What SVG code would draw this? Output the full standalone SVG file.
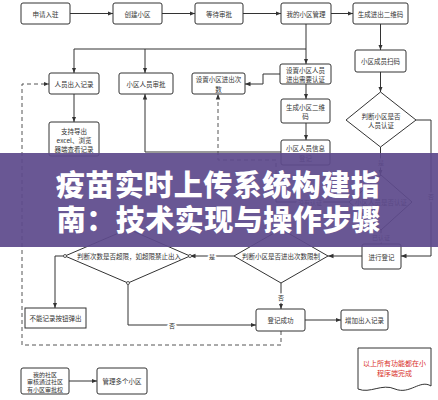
<svg xmlns="http://www.w3.org/2000/svg" width="438" height="400" viewBox="0 0 438 400">
<style>
.b{fill:#fff;stroke:#333;stroke-width:1}
.t{font-family:"Noto Sans CJK SC","Noto Sans",sans-serif;font-size:6.5px;fill:#333;text-anchor:middle;dominant-baseline:central}
.s{font-size:6px}
.l{font-family:"Noto Sans CJK SC","Noto Sans",sans-serif;font-size:6px;fill:#333;text-anchor:middle;dominant-baseline:central;stroke:#fff;stroke-width:3;paint-order:stroke}
.c{fill:none;stroke:#333;stroke-width:1}
.d{fill:none;stroke:#555;stroke-width:1;stroke-dasharray:4 3}
.v{fill:#fff;stroke:#333;stroke-width:0.8}
.r{font-family:"Noto Sans CJK SC","Noto Sans",sans-serif;font-size:7px;fill:#d9312b;text-anchor:middle;dominant-baseline:central}
.h{font-family:"Noto Sans CJK SC","Noto Sans",sans-serif;font-size:29px;font-weight:900;fill:#fff;text-anchor:middle;dominant-baseline:central;letter-spacing:0.5px}
</style>
<defs>
<marker id="a" viewBox="0 0 10 10" refX="10" refY="5" markerWidth="5.5" markerHeight="5.5" orient="auto"><path d="M0,1 L10,5 L0,9 z" fill="#333"/></marker>
</defs>
<rect width="438" height="400" fill="#fff"/>
<g id="connectors">
<path class="c" d="M70,13.5 H113" marker-end="url(#a)"/>
<path class="c" d="M162,13.5 H195" marker-end="url(#a)"/>
<path class="c" d="M243,13.5 H281" marker-end="url(#a)"/>
<path class="c" d="M331,13.5 H353" marker-end="url(#a)"/>
<path class="c" d="M380.5,24 V50" marker-end="url(#a)"/>
<path class="c" d="M306,24 V64" marker-end="url(#a)"/>
<path class="c" d="M306,49 H74 V73" marker-end="url(#a)"/>
<path class="c" d="M145,49 V73" marker-end="url(#a)"/>
<path class="c" d="M280,74 H263 V84 H245" marker-end="url(#a)"/>
<path class="c" d="M306,84 V99" marker-end="url(#a)"/>
<path class="c" d="M306,123 V140" marker-end="url(#a)"/>
<path class="c" d="M74,94 V122" marker-end="url(#a)"/>
<path class="c" d="M281,152 H145 V94" marker-end="url(#a)"/>
<path class="c" d="M380.5,72 V92" marker-end="url(#a)"/>
<path class="c" d="M380.5,147 V175" marker-end="url(#a)"/>
<path class="c" d="M416,120 H431 V256 H401" marker-end="url(#a)"/>
<path class="c" d="M349,202 H276"/>
<path class="d" d="M276,202 V160 H218 V94" marker-end="url(#a)"/>
<path class="c" d="M381,230 V244" marker-end="url(#a)"/>
<path class="c" d="M362,256 H328" marker-end="url(#a)"/>
<path class="c" d="M234,256 H190" marker-end="url(#a)"/>
<path class="c" d="M281,283 V309" marker-end="url(#a)"/>
<path class="c" d="M65,256 H55 V308" marker-end="url(#a)"/>
<path class="c" d="M128,283 V325 H256" marker-end="url(#a)"/>
<path class="c" d="M305,320 H341" marker-end="url(#a)"/>
<path class="d" d="M281,331 V345 H22 V84 H49" marker-end="url(#a)"/>
<path class="c" d="M69,381 H97" marker-end="url(#a)"/>
<text class="l" x="381" y="162">是</text>
<text class="l" x="431" y="196">否</text>
<text class="l" x="310" y="202">没有认证</text>
<text class="l" x="381" y="237">已认证</text>
<text class="l" x="212" y="256">是</text>
<text class="l" x="281" y="297">否</text>
<text class="l" x="172" y="325">否</text>
</g>
<g id="n1"><rect class="b" x="21" y="3" width="49" height="21" rx="2"/><text class="t" x="45.5" y="13.5">申请入驻</text></g>
<g id="n2"><rect class="b" x="113" y="3" width="49" height="21" rx="2"/><text class="t" x="137.5" y="13.5">创建小区</text></g>
<g id="n3"><rect class="b" x="195" y="3" width="48" height="21" rx="2"/><text class="t" x="219" y="13.5">等待审批</text></g>
<g id="n4"><rect class="b" x="281" y="3" width="50" height="21" rx="2"/><text class="t" x="306" y="13.5">我的小区管理</text></g>
<g id="n5"><rect class="b" x="353" y="3" width="55" height="21" rx="2"/><text class="t" x="380.5" y="13.5">生成进出二维码</text></g>
<g id="n6"><rect class="b" x="355" y="50" width="51" height="22" rx="2"/><text class="t" x="380.5" y="61">小区成员扫码</text></g>
<g id="n7"><rect class="b" x="49" y="73" width="50" height="21" rx="2"/><text class="t" x="74" y="83.5">人员出入记录</text></g>
<g id="n8"><rect class="b" x="119" y="73" width="54" height="21" rx="2"/><text class="t" x="146" y="83.5">小区人员审批</text></g>
<g id="n9"><rect class="b" x="192" y="73" width="53" height="21" rx="2"/><text class="t" x="218.5" y="79">设置小区进出次</text><text class="t" x="218.5" y="88.5">数</text></g>
<g id="n10"><rect class="b" x="280" y="64" width="51" height="20" rx="2"/><text class="t" x="305.5" y="70">设置小区人员</text><text class="t" x="305.5" y="79">进出需要认证</text></g>
<g id="n11"><rect class="b" x="281" y="99" width="49" height="24" rx="2"/><text class="t" x="305.5" y="107">生成小区二维</text><text class="t" x="305.5" y="116">码</text></g>
<g id="n12"><rect class="b" x="281" y="140" width="49" height="25" rx="2"/><text class="t" x="305.5" y="148">小区人员信息</text><text class="t" x="305.5" y="158">登记</text></g>
<g id="n13"><rect class="b" x="49" y="122" width="50" height="34" rx="2"/><text class="t" x="74" y="131">支持导出</text><text class="t" x="74" y="140">excel、浏览</text><text class="t" x="74" y="149">器端查看记录</text></g>
<g id="n14"><path class="b" d="M380.5,92 L416,120 L380.5,147 L346,120 Z"/><text class="t" x="381" y="116">判断小区是否</text><text class="t" x="381" y="125">人员认证</text></g>
<g id="n15"><path class="b" d="M381,175 L412,202 L381,230 L349,202 Z"/><text class="t" x="381" y="202">小区人员是否认证</text></g>
<g id="n16"><rect class="b" x="362" y="244" width="39" height="25" rx="2"/><text class="t" x="381.5" y="256.5">进行登记</text></g>
<g id="n17"><path class="b" d="M281,229 L328,256 L281,283 L234,256 Z"/><text class="t" x="281" y="256">判断小区是否进出次数限制</text></g>
<g id="n18"><path class="b" d="M128,229 L190,256 L128,283 L65,256 Z"/><text class="t" x="129" y="256">判断次数是否超限，如超限禁止出入</text><circle class="v" cx="65" cy="256" r="1.5"/><circle class="v" cx="190" cy="256" r="1.5"/><circle class="v" cx="128" cy="283" r="1.5"/></g>
<g id="n19"><rect class="b" x="25" y="308" width="61" height="20"/><text class="t" x="55.5" y="318">不能记录按钮弹出</text></g>
<g id="n20"><rect class="b" x="256" y="309" width="49" height="22" rx="2"/><text class="t" x="280.5" y="320">登记成功</text></g>
<g id="n21"><rect class="b" x="341" y="310" width="47" height="20" rx="2"/><text class="t" x="364.5" y="320">增加出入记录</text></g>
<g id="n22"><rect class="b" x="21" y="368" width="48" height="26" rx="2"/><text class="t s" x="45" y="374">我的社区</text><text class="t s" x="45" y="381.5">审核通过社区</text><text class="t s" x="45" y="389">有小区审批权</text></g>
<g id="n23"><rect class="b" x="97" y="368" width="50" height="26" rx="2"/><text class="t" x="122" y="381">管理多个小区</text></g>
<g id="n24"><path class="b" d="M358,348 H431 V386 C420,379 410,395 395,389 C382,383 370,394 358,389 Z"/><text class="r" x="394.5" y="363">以上所有功能都在小</text><text class="r" x="394.5" y="373">程序端完成</text></g>
<g id="banner">
<rect x="0" y="153" width="438" height="94" fill="#5e4a8c" opacity="0.93"/>
<text class="h" x="218" y="183">疫苗实时上传系统构建指</text>
<text class="h" x="219" y="218">南：技术实现与操作步骤</text>
</g>
</svg>
